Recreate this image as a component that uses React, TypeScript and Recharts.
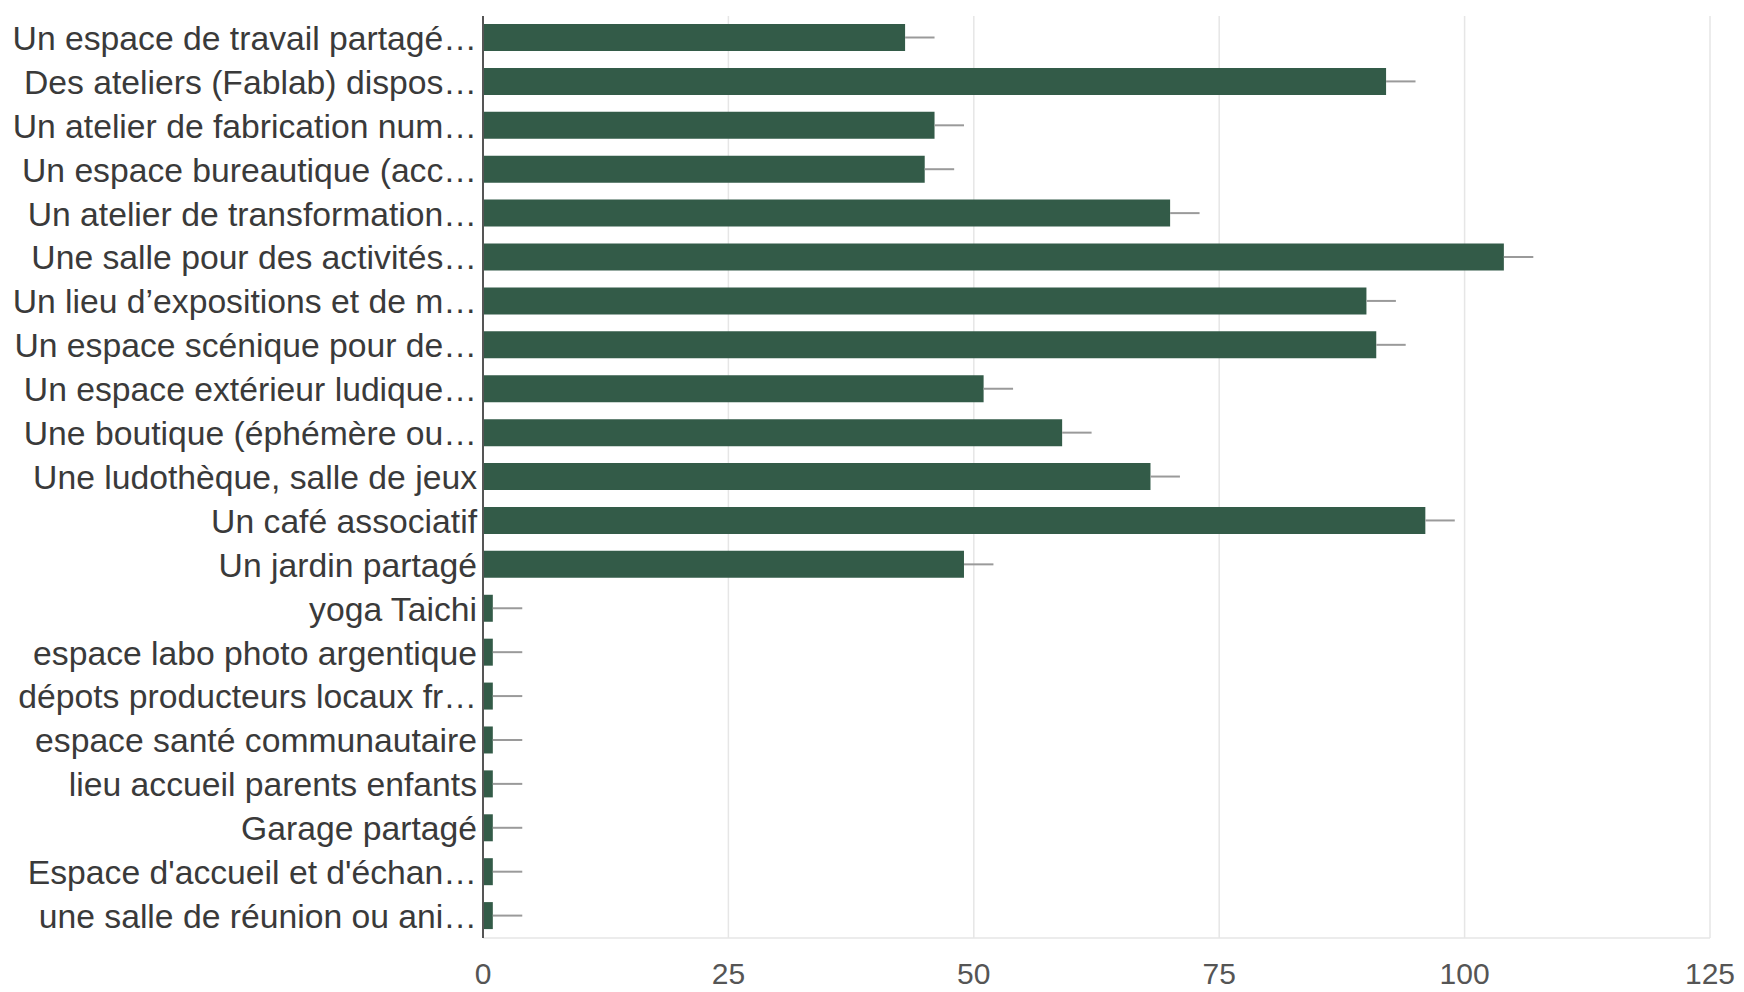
import React from "react";
import { BarChart, Bar, XAxis, YAxis, CartesianGrid, ErrorBar } from "recharts";

const categories = [
  "Un espace de travail partagé…",
  "Des ateliers (Fablab) dispos…",
  "Un atelier de fabrication num…",
  "Un espace bureautique (acc…",
  "Un atelier de transformation…",
  "Une salle pour des activités…",
  "Un lieu d’expositions et de m…",
  "Un espace scénique pour de…",
  "Un espace extérieur ludique…",
  "Une boutique (éphémère ou…",
  "Une ludothèque, salle de jeux",
  "Un café associatif",
  "Un jardin partagé",
  "yoga Taichi",
  "espace labo photo argentique",
  "dépots producteurs locaux fr…",
  "espace santé communautaire",
  "lieu accueil parents enfants",
  "Garage partagé",
  "Espace d'accueil et d'échan…",
  "une salle de réunion ou ani…",
];

const counts = [43, 92, 46, 45, 70, 104, 90, 91, 51, 59, 68, 96, 49, 1, 1, 1, 1, 1, 1, 1, 1];
const errorLow = [0, 0, 0, 0, 0, 0, 0, 0, 0, 0, 0, 0, 0, 0, 0, 0, 0, 0, 0, 0, 0];
const errorHigh = [3, 3, 3, 3, 3, 3, 3, 3, 3, 3, 3, 3, 3, 3, 3, 3, 3, 3, 3, 3, 3];
const xTicks = [0, 25, 50, 75, 100, 125];

const data = categories.map((name, i) => ({
  name,
  value: counts[i],
  err: [errorLow[i], errorHigh[i]],
}));

const FONT = "'Liberation Sans', Arial, sans-serif";

export default function App() {
  return (
    <div style={{ position: "absolute", left: 0, top: 0, background: "#fff" }}>
      <BarChart
        width={1744}
        height={992}
        data={data}
        layout="vertical"
        margin={{ top: 16, right: 34, bottom: 0, left: 0 }}
        barCategoryGap={0}
      >
        <CartesianGrid horizontal={false} stroke="#e6e6e6" strokeWidth={1.5} />
        <XAxis
          xAxisId="top"
          orientation="top"
          type="number"
          domain={[0, 125]}
          ticks={xTicks}
          height={0}
          tick={false}
          tickLine={false}
          axisLine={{ stroke: "#e6e6e6", strokeWidth: 1.5 }}
        />
        <XAxis
          type="number"
          domain={[0, 125]}
          ticks={xTicks}
          height={54}
          tickLine={false}
          tickSize={0}
          tickMargin={25}
          axisLine={{ stroke: "#e6e6e6", strokeWidth: 1.5 }}
          tick={{ fill: "#555", fontSize: 30, fontFamily: FONT }}
          interval={0}
        />
        <YAxis
          type="category"
          dataKey="name"
          width={483}
          tickLine={false}
          tickSize={0}
          tickMargin={6}
          interval={0}
          axisLine={{ stroke: "#555", strokeWidth: 2 }}
          tick={{ fill: "#3a3a3a", fontSize: 33.7, fontFamily: FONT }}
        />
        <Bar dataKey="value" fill="#335b48" barSize={27} isAnimationActive={false}>
          <ErrorBar dataKey="err" direction="x" width={0} stroke="#9a9a9a" strokeWidth={2} />
        </Bar>
      </BarChart>
    </div>
  );
}
